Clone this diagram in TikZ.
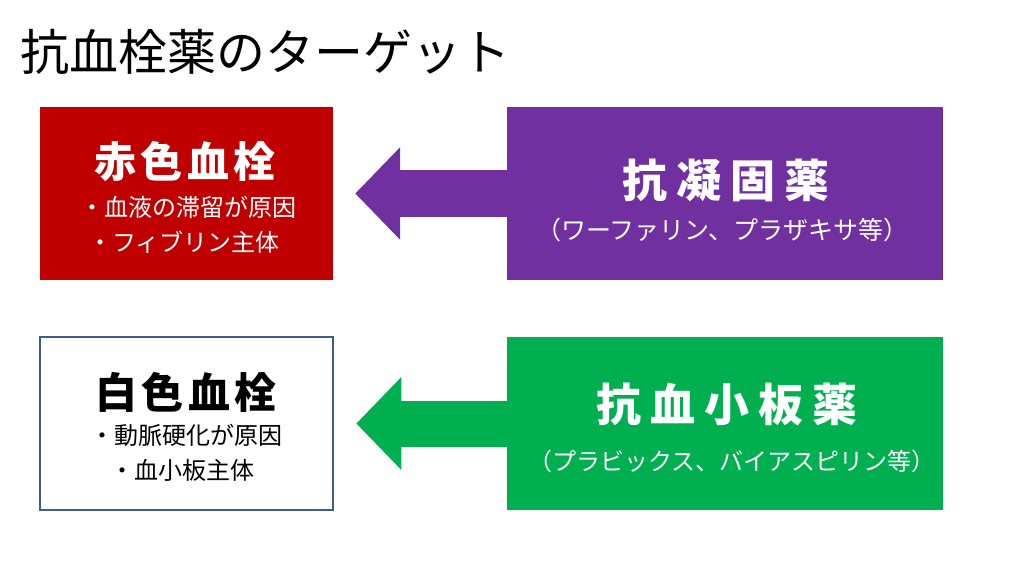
\documentclass[tikz,border=0pt]{standalone}
\usepackage{fontspec}
\setmainfont{Noto Sans CJK JP}
\usetikzlibrary{arrows.meta}
\definecolor{myred}{HTML}{C00000}
\definecolor{mypurple}{HTML}{7030A0}
\definecolor{mygreen}{HTML}{00B050}
\definecolor{myblue}{HTML}{3A5F8B}
\tikzset{
  box/.style={rectangle, inner sep=0pt, minimum width=293pt, minimum height=173pt},
  drugbox/.style={rectangle, inner sep=0pt, minimum width=436pt, minimum height=173pt},
  bigtxt/.style={inner sep=0pt, font=\fontsize{42}{46}\selectfont\bfseries\addfontfeature{LetterSpace=10}},
  drugtxt/.style={inner sep=0pt, font=\fontsize{45}{50}\selectfont\bfseries\addfontfeature{LetterSpace=20}},
  smalltxt/.style={inner sep=0pt, font=\fontsize{24}{26}\selectfont},
  subtxt/.style={inner sep=0pt, font=\fontsize{24}{28}\selectfont}
}
\tikzset{blockarrow/.style={-{Triangle[length=45pt,width=90pt]}, line width=46pt, shorten >=22pt}}
\begin{document}
\begin{tikzpicture}[x=1pt,y=-1pt]
\useasboundingbox (0,0) rectangle (1016,564);
\fill[white] (0,0) rectangle (1016,564);
% title
\node[anchor=west, inner sep=0pt, font=\fontsize{49}{54}\selectfont] (title) at (20,52) {抗血栓薬のターゲット};
% boxes
\node[box, fill=myred] (red) at (186.5,193.5) {};
\node[drugbox, fill=mypurple] (purple) at (725,193.5) {};
\node[box, fill=white, draw=myblue, line width=2.5pt] (white) at (186.5,423.5) {};
\node[drugbox, fill=mygreen] (green) at (725,423.5) {};
% arrows
\draw[blockarrow, mypurple] (purple.west) -- (red.east);
\draw[blockarrow, mygreen] (green.west) -- (white.east);
% texts red
\node[bigtxt, text=white] (redt) at (185,162) {赤色血栓};
\node[smalltxt, text=white] (redl1) at (188,207.5) {・血液の滞留が原因};
\node[smalltxt, text=white] (redl2) at (184,242) {・フィブリン主体};
% texts white
\node[bigtxt, text=black] (whitet) at (186,392) {白色血栓};
\node[smalltxt, text=black] (whitel1) at (186,435) {・動脈硬化が原因};
\node[smalltxt, text=black] (whitel2) at (182,470) {・血小板主体};
% purple texts
\node[drugtxt, text=white] (purplet) at (726,180) {抗凝固薬};
\node[subtxt, text=white, font=\fontsize{25}{28}\selectfont] (purples) at (722,230) {（ワーファリン、プラザキサ等）};
% green texts
\node[drugtxt, text=white] (greent) at (727,405) {抗血小板薬};
\node[subtxt, text=white] (greens) at (732,461) {（プラビックス、バイアスピリン等）};
\end{tikzpicture}
\end{document}
